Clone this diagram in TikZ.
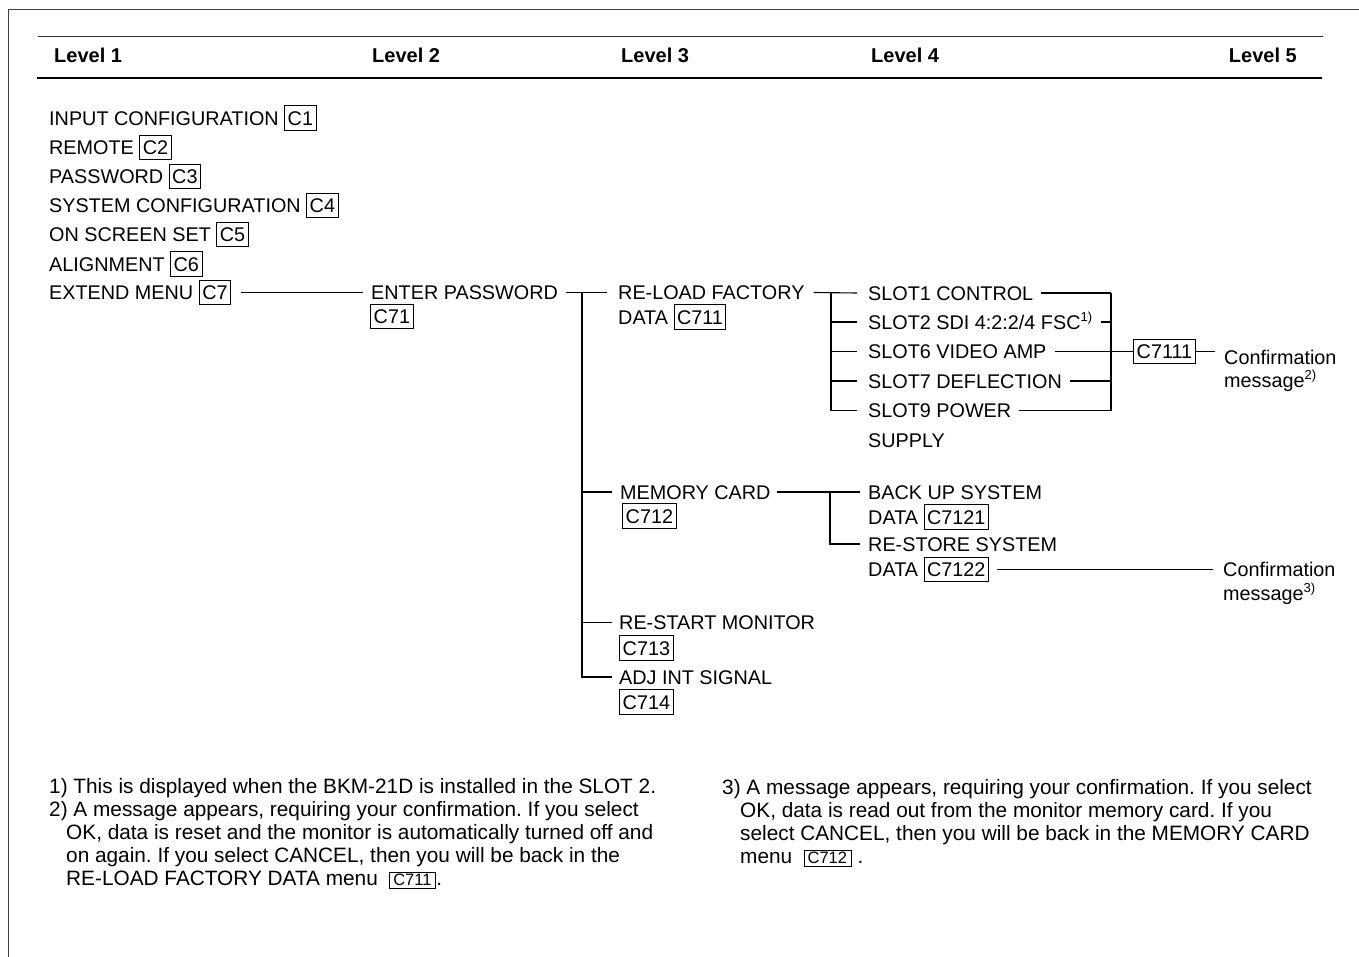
\documentclass[tikz,border=0pt]{standalone}
\usepackage{fontspec}
\setmainfont{Liberation Sans}
\frenchspacing
\newcommand\cbox[1]{{\setlength\fboxsep{0pt}\setlength\fboxrule{1pt}\fbox{\kern2.5pt\rule[-4.5pt]{0pt}{23.2pt}#1\kern2.5pt}}}
\newcommand\sbx[1]{{\fontsize{16.5}{18}\selectfont\setlength\fboxsep{0pt}\setlength\fboxrule{0.8pt}\fbox{\kern3pt\rule[-2.5pt]{0pt}{14.8pt}#1\kern4pt}}}
\newcommand\fnm[1]{\textsuperscript{\fontsize{13}{13}\selectfont #1}}
\begin{document}
\begin{tikzpicture}[x=1pt,y=-1pt,
  every node/.style={inner sep=0pt, anchor=west, text height=14.2pt, text depth=0pt,
    font=\fontsize{19.8}{23.4}\selectfont},
  hdr/.style={font=\fontsize{20}{24}\selectfont\bfseries, text height=14.6pt},
  note/.style={font=\fontsize{20.8}{23.4}\selectfont, text height=14.9pt},
  conn/.style={line width=1.1pt},
  frame/.style={line width=1pt, draw=black!75}]
\useasboundingbox (0,0) rectangle (1359,957);
% page frame and header rules
\draw[frame] (8,957) -- (8,10) -- (1359,10);
\draw[line width=1pt, black!80] (38,37) -- (1323,37);
\draw[line width=2.2pt] (37,78) -- (1322,78);
\node[hdr] (h1) at (54,55) {Level 1};
\node[hdr] (h2) at (372,55) {Level 2};
\node[hdr] (h3) at (621,55) {Level 3};
\node[hdr] (h4) at (871,55) {Level 4};
\node[hdr, anchor=east] (h5) at (1297,55) {Level 5};
% level 1
\node (l1) at (49,118) {INPUT CONFIGURATION \cbox{C1}};
\node (l2) at (49,147.2) {REMOTE \cbox{C2}};
\node (l3) at (49,176.4) {PASSWORD \cbox{C3}};
\node (l4) at (49,205.6) {SYSTEM CONFIGURATION \cbox{C4}};
\node (l5) at (49,234.8) {ON SCREEN SET \cbox{C5}};
\node (l6) at (49,264) {ALIGNMENT \cbox{C6}};
\node (l7) at (49,292.5) {EXTEND MENU \cbox{C7}};
% level 2
\node (ep) at (371,292.5) {ENTER PASSWORD};
\node (c71) at (370,316.5) {\cbox{C71}};
\draw[conn] ([xshift=10pt]l7.east) -- ([xshift=-8pt]ep.west);
% level 3
\node (rl) at (618,292.5) {RE-LOAD FACTORY};
\node (rl2) at (618,317) {DATA \cbox{C711}};
\node (mc) at (620,492) {MEMORY CARD};
\node (c712) at (622,516) {\cbox{C712}};
\node (rs) at (619,622.5) {RE-START MONITOR};
\node (c713) at (619,648) {\cbox{C713}};
\node (adj) at (619,677) {ADJ INT SIGNAL};
\node (c714) at (619,702) {\cbox{C714}};
\coordinate (j2) at (582,292.5);
\draw[conn] ([xshift=8pt]ep.east) -- ([xshift=-11pt]rl.west);
\draw[conn] (j2) |- ([xshift=-7pt]adj.west);
\draw[conn] (j2 |- mc) -- ([xshift=-8pt]mc.west);
\draw[conn] (j2 |- rs) -- ([xshift=-7pt]rs.west);
% level 4 (re-load factory data)
\node (s1) at (868,293) {SLOT1 CONTROL};
\node (s2) at (868,322) {SLOT2 SDI 4:2:2/4 FSC\fnm{1)}};
\node (s6) at (868,351.5) {SLOT6 VIDEO AMP};
\node (s7) at (868,381) {SLOT7 DEFLECTION};
\node (s9) at (868,410.5) {SLOT9 POWER};
\node (s9b) at (868,440) {SUPPLY};
\coordinate (j3) at (831,293);
\coordinate (r3) at (1111,293);
\draw[conn] ([xshift=9pt]rl.east) -- ([xshift=-11pt]s1.west);
\draw[conn] (j3) |- ([xshift=-11pt]s9.west);
\foreach \n in {s2,s6,s7}{\draw[conn] (j3 |- \n) -- ([xshift=-11pt]\n.west);}
\foreach \n in {s1,s2,s6,s7}{\draw[conn] ([xshift=8pt]\n.east) -- (r3 |- \n);}
\draw[conn] ([xshift=8pt]s9.east) -| (r3);
\node (c7111) at (1133,351.5) {\cbox{C7111}};
\node (cm1) at (1224,357) {Confirmation};
\node (cm1b) at (1224,380) {message\fnm{2)}};
\draw[conn] (r3 |- c7111) -- (c7111.west);
\draw[conn] (c7111.east) -- (1215,351.5) coordinate (e1);
% level 4 (memory card)
\node (bu) at (868,492) {BACK UP SYSTEM};
\node (bu2) at (868,517) {DATA \cbox{C7121}};
\node (rst) at (868,544) {RE-STORE SYSTEM};
\node (rst2) at (868,569.5) {DATA \cbox{C7122}};
\coordinate (j4) at (830,492);
\draw[conn] ([xshift=6pt]mc.east) -- ([xshift=-8pt]bu.west);
\draw[conn] (j4) |- ([xshift=-8pt]rst.west);
\node (cm2) at (1223,569.5) {Confirmation};
\node (cm2b) at (1223,593) {message\fnm{3)}};
\draw[conn] ([xshift=8pt]rst2.east) -- ([xshift=-10pt]cm2.west);
% footnotes
\node[note] (f1) at (49,786) {1) This is displayed when the BKM-21D is installed in the SLOT 2.};
\node[note] (f2) at (49,809) {2) A message appears, requiring your confirmation. If you select};
\node[note] (f2b) at (66,832) {OK, data is reset and the monitor is automatically turned off and};
\node[note] (f2c) at (66,855) {on again. If you select CANCEL, then you will be back in the};
\node[note] (f2d) at (66,878) {RE-LOAD FACTORY DATA menu \ \sbx{C711}.};
\node[note] (f3) at (722,787) {3) A message appears, requiring your confirmation. If you select};
\node[note] (f3b) at (740,810) {OK, data is read out from the monitor memory card. If you};
\node[note] (f3c) at (740,833) {select CANCEL, then you will be back in the MEMORY CARD};
\node[note] (f3d) at (740,856) {menu \ \sbx{C712} .};
\end{tikzpicture}
\end{document}
